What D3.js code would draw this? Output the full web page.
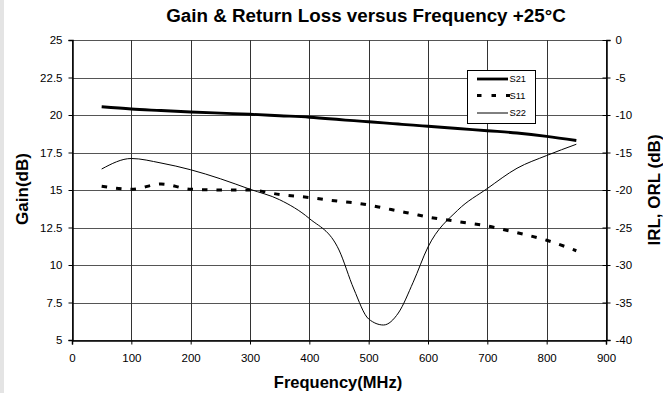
<!DOCTYPE html>
<html>
<head>
<meta charset="utf-8">
<script src="https://cdn.jsdelivr.net/npm/d3@7"></script>
<style>
  html, body { margin: 0; padding: 0; background: #fff; }
  svg { display: block; }
  text { font-family: Arial, "Liberation Sans", sans-serif; fill: #000; }
</style>
</head>
<body>
<script>
// Frequency sweep (MHz)
const freq = [50, 100, 150, 200, 250, 300, 350, 400, 450, 475, 500, 525, 550, 575, 600, 650, 700, 750, 800, 850];
// S21 gain (dB), left axis
const s21 = [20.55, 20.4, 20.3, 20.2, 20.12, 20.05, 19.95, 19.85, 19.7, 19.62, 19.55, 19.48, 19.4, 19.32, 19.25, 19.1, 18.95, 18.8, 18.58, 18.3];
// S11 input return loss (dB), right axis
const s11 = [-19.5, -19.9, -19.2, -19.9, -20.0, -20.0, -20.6, -21.0, -21.5, -21.7, -22.0, -22.4, -22.8, -23.2, -23.6, -24.2, -24.8, -25.7, -26.7, -28.1];
// S22 output return loss (dB), right axis
const s22 = [-17.2, -15.8, -16.4, -17.3, -18.5, -19.9, -21.3, -23.8, -28.0, -33.2, -37.2, -38.0, -36.4, -32.3, -27.6, -22.7, -19.8, -17.1, -15.4, -13.9];

const xTicks = [0, 100, 200, 300, 400, 500, 600, 700, 800, 900];
const leftTicks = [5, 7.5, 10, 12.5, 15, 17.5, 20, 22.5, 25];
const rightTicks = [-40, -35, -30, -25, -20, -15, -10, -5, 0];

const W = 663, H = 393;
const svg = d3.select("body").append("svg").attr("width", W).attr("height", H);

// light strip on the left edge
svg.append("rect").attr("x", 0).attr("y", 0).attr("width", 4).attr("height", H).attr("fill", "#e4e4e4");

const x = d3.scaleLinear().domain([0, 900]).range([72, 606]);
const yL = d3.scaleLinear().domain([5, 25]).range([340, 40]);
const yR = d3.scaleLinear().domain([-40, 0]).range([340, 40]);

// grid
const grid = svg.append("g");
grid.selectAll("line.h").data(leftTicks).join("line")
  .attr("x1", x(0)).attr("x2", x(900))
  .attr("y1", d => Math.round(yL(d)) + 0.5).attr("y2", d => Math.round(yL(d)) + 0.5)
  .attr("stroke", "#555").attr("stroke-width", 1);
grid.selectAll("line.v").data(xTicks).join("line")
  .attr("y1", yL(25)).attr("y2", yL(5))
  .attr("x1", d => Math.round(x(d)) + 0.5).attr("x2", d => Math.round(x(d)) + 0.5)
  .attr("stroke", "#333").attr("stroke-width", 1);

// axes
const fmt = d => String(d);
const axL = svg.append("g").attr("transform", `translate(${x(0) + 0.5},0)`)
  .call(d3.axisLeft(yL).tickValues(leftTicks).tickFormat(fmt).tickSize(4).tickPadding(6));
const axR = svg.append("g").attr("transform", `translate(${x(900) + 0.5},0)`)
  .call(d3.axisRight(yR).tickValues(rightTicks).tickFormat(fmt).tickSize(4).tickPadding(5));
const axB = svg.append("g").attr("transform", `translate(0,${yL(5) + 0.5})`)
  .call(d3.axisBottom(x).tickValues(xTicks).tickFormat(fmt).tickSize(4).tickPadding(9));
[axL, axR, axB].forEach(a => {
  a.select(".domain").attr("stroke", "#000").attr("stroke-width", 1.5);
  a.selectAll(".tick line").attr("stroke", "#000");
  a.selectAll(".tick text").attr("font-size", 11.5).attr("font-family", "Arial, 'Liberation Sans', sans-serif").attr("fill", "#111");
});
// right ticks cross the axis
axR.selectAll(".tick line").attr("x1", -4);

// series
const lineL = d3.line().x((d, i) => x(freq[i])).y(d => yL(d)).curve(d3.curveMonotoneX);
const lineR = d3.line().x((d, i) => x(freq[i])).y(d => yR(d)).curve(d3.curveMonotoneX);

svg.append("path").datum(s22).attr("d", lineR)
  .attr("fill", "none").attr("stroke", "#000").attr("stroke-width", 1);
svg.append("path").datum(s11).attr("d", lineR)
  .attr("fill", "none").attr("stroke", "#000").attr("stroke-width", 3).attr("stroke-dasharray", "5.5,9");
svg.append("path").datum(s21).attr("d", lineL)
  .attr("fill", "none").attr("stroke", "#000").attr("stroke-width", 2.8);

// legend
const lg = svg.append("g");
lg.append("rect").attr("x", 467.5).attr("y", 70.5).attr("width", 68).attr("height", 53)
  .attr("fill", "#fff").attr("stroke", "#000").attr("stroke-width", 1);
const legendItems = [
  { name: "S21", w: 2.8, dash: null, y: 79, x2: 508 },
  { name: "S11", w: 3, dash: "4.5,10", y: 95.5, x2: 510 },
  { name: "S22", w: 1, dash: null, y: 113, x2: 508 }
];
legendItems.forEach(it => {
  const l = lg.append("line").attr("x1", 477).attr("x2", it.x2).attr("y1", it.y).attr("y2", it.y)
    .attr("stroke", "#000").attr("stroke-width", it.w);
  if (it.dash) l.attr("stroke-dasharray", it.dash);
  lg.append("text").attr("x", 509.5).attr("y", it.y + 3.3).attr("font-size", 9.3).text(it.name);
});

// titles
svg.append("text").attr("x", 366).attr("y", 22).attr("text-anchor", "middle")
  .attr("font-size", 18.8).attr("font-weight", "bold").text("Gain & Return Loss versus Frequency +25°C");
svg.append("text").attr("x", 338).attr("y", 388).attr("text-anchor", "middle")
  .attr("font-size", 16.5).attr("font-weight", "bold").text("Frequency(MHz)");
svg.append("text").attr("transform", "translate(28,189) rotate(-90)").attr("text-anchor", "middle")
  .attr("font-size", 17).attr("font-weight", "bold").text("Gain(dB)");
svg.append("text").attr("transform", "translate(660,190) rotate(-90)").attr("text-anchor", "middle")
  .attr("font-size", 17).attr("font-weight", "bold").text("IRL, ORL (dB)");
</script>
</body>
</html>
